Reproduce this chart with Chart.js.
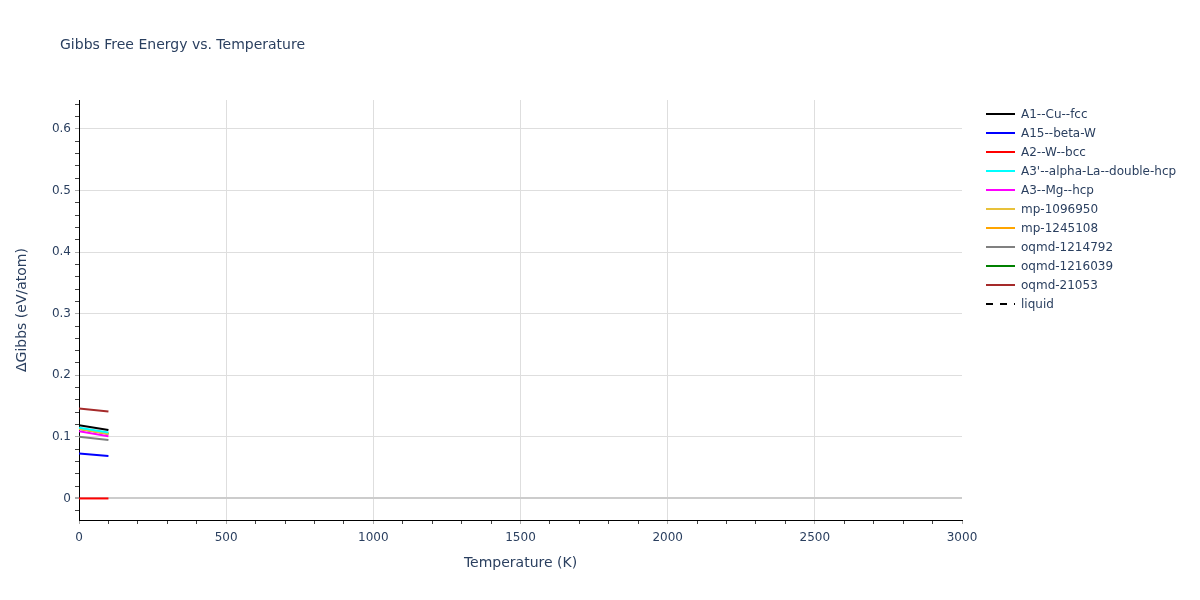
<!DOCTYPE html>
<html>
<head>
<meta charset="utf-8">
<title>Gibbs Free Energy vs. Temperature</title>
<script src="https://cdn.jsdelivr.net/npm/chart.js@4.4.1/dist/chart.umd.min.js"></script>
<style>
  html, body { margin: 0; padding: 0; background: #fff; }
  #wrap { width: 1200px; height: 600px; position: relative; }
</style>
</head>
<body>
<div id="wrap"><canvas id="gibbsChart" width="1200" height="600"></canvas></div>
<script>
// temperatures (K) where each phase was sampled
const temperatures = [0, 100];

// ΔGibbs (eV/atom) per phase
const a1CuFcc = [0.119, 0.111];
const a15BetaW = [0.073, 0.069];
const a2WBcc = [0, 0];
const a3AlphaLaDhcp = [0.115, 0.107];
const a3MgHcp = [0.109, 0.101];
const mp1096950 = [0.113, 0.105];
const mp1245108 = [0.113, 0.105];
const oqmd1214792 = [0.100, 0.095];
const oqmd1216039 = [0.113, 0.105];
const oqmd21053 = [0.146, 0.141];
const liquid = [];

const seriesNames = [
  "A1--Cu--fcc", "A15--beta-W", "A2--W--bcc", "A3'--alpha-La--double-hcp",
  "A3--Mg--hcp", "mp-1096950", "mp-1245108", "oqmd-1214792",
  "oqmd-1216039", "oqmd-21053", "liquid"
];
const seriesValues = [
  a1CuFcc, a15BetaW, a2WBcc, a3AlphaLaDhcp, a3MgHcp, mp1096950,
  mp1245108, oqmd1214792, oqmd1216039, oqmd21053, liquid
];
const seriesColors = [
  "#000000", "#0000ff", "#ff0000", "#00ffff", "#ff00ff", "#e8c13a",
  "#ffa500", "#808080", "#008000", "#a52a2a", "#000000"
];

const FONT = "'DejaVu Sans', Verdana, sans-serif";
const TEXT = "#2a3f5f";

const isMultiple = (v, step) => Math.abs(v / step - Math.round(v / step)) < 1e-6;

const datasets = seriesNames.map((name, i) => ({
  label: name,
  data: seriesValues[i].map((y, k) => ({ x: temperatures[k], y: y })),
  borderColor: seriesColors[i],
  backgroundColor: seriesColors[i],
  borderWidth: 2,
  borderDash: name === "liquid" ? [6, 6] : [],
  pointRadius: 0,
  fill: false,
  tension: 0,
}));

// plotly-like title and legend drawn at fixed spots
const overlay = {
  id: "overlay",
  afterDraw(chart) {
    const ctx = chart.ctx;
    ctx.save();
    ctx.fillStyle = TEXT;
    ctx.textBaseline = "middle";
    ctx.textAlign = "left";
    ctx.font = "14px " + FONT;
    ctx.fillText("Gibbs Free Energy vs. Temperature", 60, 45);

    ctx.font = "12px " + FONT;
    chart.data.datasets.forEach((ds, i) => {
      const y = 114 + i * 19;
      ctx.beginPath();
      ctx.strokeStyle = ds.borderColor;
      ctx.lineWidth = 2;
      ctx.setLineDash(ds.borderDash.length ? [7, 7] : []);
      ctx.moveTo(986, y);
      ctx.lineTo(1015, y);
      ctx.stroke();
      ctx.setLineDash([]);
      ctx.fillStyle = TEXT;
      ctx.fillText(ds.label, 1021, y + 1);
    });
    ctx.restore();
  }
};

new Chart(document.getElementById("gibbsChart"), {
  type: "line",
  data: { datasets: datasets },
  options: {
    responsive: false,
    animation: false,
    layout: { padding: { top: 100, right: 238, bottom: 0, left: 0 } },
    plugins: {
      legend: { display: false },
      title: { display: false },
      tooltip: { enabled: false },
    },
    scales: {
      x: {
        type: "linear",
        min: 0,
        max: 3000,
        afterFit(scale) { scale.height = 80; },
        afterBuildTicks(scale) {
          const t = [];
          for (let v = 0; v <= 3000; v += 100) t.push({ value: v });
          scale.ticks = t;
        },
        border: { display: true, color: "#000000", width: 1 },
        grid: {
          color: (c) => (c.tick && isMultiple(c.tick.value, 500) && c.tick.value > 0 && c.tick.value < 3000) ? "#dedede" : "rgba(0,0,0,0)",
          tickColor: (c) => (c.tick && isMultiple(c.tick.value, 500)) ? "#aaaaaa" : "#444444",
          tickLength: 4,
          lineWidth: 1,
        },
        ticks: {
          autoSkip: false,
          maxRotation: 0,
          padding: 7,
          color: TEXT,
          font: { family: FONT, size: 12 },
          callback: (v) => isMultiple(v, 500) ? String(v) : "",
        },
        title: {
          display: true,
          text: "Temperature (K)",
          color: TEXT,
          font: { family: FONT, size: 14 },
          padding: { top: 0, bottom: 28 },
        },
      },
      y: {
        type: "linear",
        min: -0.035,
        max: 0.647,
        afterFit(scale) { scale.width = 79; },
        afterBuildTicks(scale) {
          const t = [];
          for (let k = -1; k <= 32; k++) t.push({ value: Math.round(k * 2) / 100 });
          scale.ticks = t;
        },
        border: { display: true, color: "#000000", width: 1 },
        grid: {
          color: (c) => {
            if (!c.tick) return "rgba(0,0,0,0)";
            const v = c.tick.value;
            if (Math.abs(v) < 1e-9) return "#cccccc";
            return isMultiple(v, 0.1) ? "#dedede" : "rgba(0,0,0,0)";
          },
          lineWidth: (c) => (c.tick && Math.abs(c.tick.value) < 1e-9) ? 2 : 1,
          tickColor: (c) => (c.tick && isMultiple(c.tick.value, 0.1)) ? "#aaaaaa" : "#444444",
          tickLength: 4,
        },
        ticks: {
          autoSkip: false,
          padding: 4,
          color: TEXT,
          font: { family: FONT, size: 12 },
          callback: (v) => {
            if (!isMultiple(v, 0.1)) return "";
            const r = Math.round(v * 10) / 10;
            return r === 0 ? "0" : r.toFixed(1);
          },
        },
        title: {
          display: true,
          text: "ΔGibbs (eV/atom)",
          color: TEXT,
          font: { family: FONT, size: 14 },
          padding: { top: 14, bottom: 0 },
        },
      },
    },
  },
  plugins: [overlay],
});
</script>
</body>
</html>
